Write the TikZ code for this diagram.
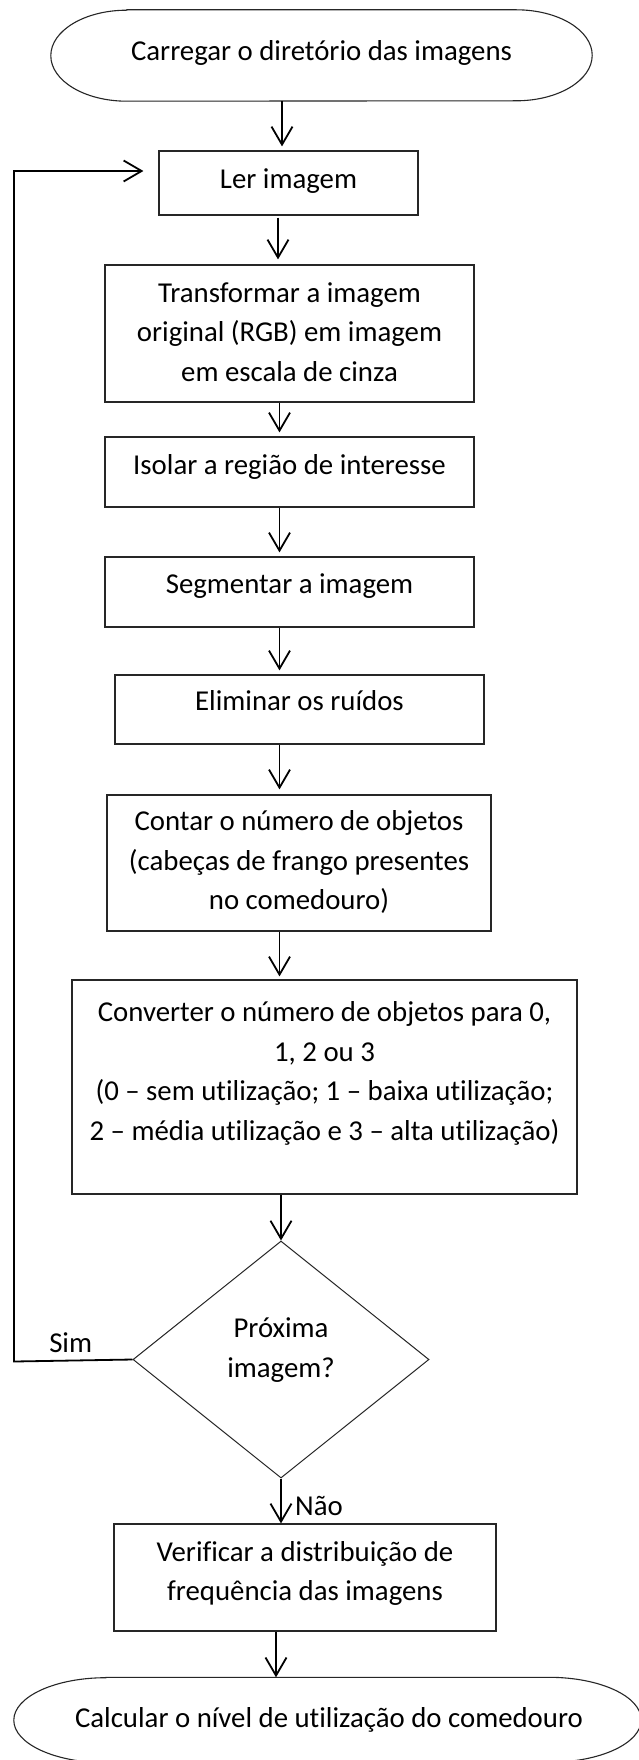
\documentclass[tikz,border=0pt]{standalone}
\usepackage{fontspec}
\setmainfont{Carlito}[Ligatures=NoCommon]
\usetikzlibrary{arrows.meta,shapes.geometric}
\begin{document}
\begin{tikzpicture}[x=1pt,y=-1pt,
  box/.style={draw=black!85,line width=1.2pt,rectangle,inner sep=0pt},
  frame/.style={draw=none,rectangle,inner sep=0pt},
  term/.style={draw=black!85,line width=1.1pt},
  dia/.style={draw=black!85,line width=1.0pt,diamond,inner sep=0pt},
  txt/.style={font=\fontsize{28.8}{39.5}\selectfont,align=center,inner sep=0pt,anchor=north},
  lbl/.style={font=\fontsize{28.8}{39.5}\selectfont,inner sep=0pt,anchor=base},
  arr/.style={line width=1.8pt,-{Straight Barb[length=18pt,width=21pt,line width=1.8pt]}}
]
\useasboundingbox (0,0) rectangle (638,1760);
\fill[white] (0,0) rectangle (638,1760);

% start terminator
\node[frame,minimum width=541pt,minimum height=91pt] (start) at (321.5,55.5) {};
\draw[term] ([xshift=76pt]start.north west) -- ([xshift=-76pt]start.north east)
  arc[start angle=90,end angle=-90,x radius=76pt,y radius=45.5pt]
  -- ([xshift=76pt]start.south west)
  arc[start angle=270,end angle=90,x radius=76pt,y radius=45.5pt] -- cycle;
\node[txt] (tstart) at (321.5,60-27.65) {\strut Carregar o diretório das imagens};

% boxes
\node[box,minimum width=259pt,minimum height=64pt] (ler) at (288.5,183) {};
\node[txt] (tler) at (288.5,188.3-27.65) {\strut Ler imagem};

\node[box,minimum width=369pt,minimum height=137pt] (trans) at (289.5,333.5) {};
\node[txt] (ttrans) at (289.5,302-27.65) {\strut Transformar a imagem\\original (RGB) em imagem\\em escala de cinza};

\node[box,minimum width=369pt,minimum height=70pt] (iso) at (289.5,472) {};
\node[txt] (tiso) at (289.5,474-27.65) {\strut Isolar a região de interesse};

\node[box,minimum width=369pt,minimum height=70pt] (seg) at (289.5,592) {};
\node[txt] (tseg) at (289.5,593-27.65) {\strut Segmentar a imagem};

\node[box,minimum width=369pt,minimum height=69pt] (elim) at (299.5,709.5) {};
\node[txt] (telim) at (299.5,710.7-27.65) {\strut Eliminar os ruídos};

\node[box,minimum width=384pt,minimum height=136pt] (cont) at (299,863) {};
\node[txt] (tcont) at (299,830.5-27.65) {\strut Contar o número de objetos\\(cabeças de frango presentes\\no comedouro)};

\node[box,minimum width=505pt,minimum height=214pt] (conv) at (324.5,1087) {};
\node[txt] (tconv) at (324.5,1021.7-27.65) {\strut Converter o número de objetos para 0,\\1, 2 ou 3\\(0 – sem utilização; 1 – baixa utilização;\\2 – média utilização e 3 – alta utilização)};

\node[dia,minimum width=296pt,minimum height=237pt] (dec) at (281,1359.5) {};
\node[txt] (tdec) at (281,1337.3-27.65) {\strut Próxima\\imagem?};

\node[box,minimum width=382pt,minimum height=107pt] (verif) at (305,1577.5) {};
\node[txt] (tverif) at (305,1561-27.65) {\strut Verificar a distribuição de\\frequência das imagens};

% end terminator
\node[frame,minimum width=627pt,minimum height=85pt] (fim) at (327.5,1720) {};
\draw[term] ([xshift=92pt]fim.north west) -- ([xshift=-92pt]fim.north east)
  arc[start angle=90,end angle=-90,x radius=92pt,y radius=42.5pt]
  -- ([xshift=92pt]fim.south west)
  arc[start angle=270,end angle=90,x radius=92pt,y radius=42.5pt] -- cycle;
\node[txt] (tfim) at (329,1727.5-27.65) {\strut Calcular o nível de utilização do comedouro};

% labels
\node[lbl] (sim) at (70.7,1352.7) {Sim};
\node[lbl,anchor=base west] (nao) at (295,1515.7) {Não};

% connectors
\coordinate (col) at (279.5,0);
\draw[arr,shorten >=4pt] (start.south -| 282,0) -- (ler.north -| 282,0);
\draw[arr,shorten >=5pt,shorten <=2pt] (ler.south -| 278,0) -- (trans.north -| 278,0);
\draw[arr,shorten >=4pt] (trans.south -| col) -- (iso.north -| col);
\draw[arr,shorten >=4pt] (iso.south -| col) -- (seg.north -| col);
\draw[arr,shorten >=4pt] (seg.south -| col) -- (elim.north -| col);
\draw[arr,shorten >=5pt] (elim.south -| col) -- (cont.north -| col);
\draw[arr,shorten >=3pt] (cont.south -| col) -- (conv.north -| col);
\draw[arr] (conv.south -| dec.north) -- (dec.north);
\draw[arr] (dec.south) -- (verif.north -| dec.south);
\draw[arr] (verif.south -| 276,0) -- (fim.north -| 276,0);

\coordinate (lb) at (14,1361.5);
\coordinate (lt) at (14,171);
\draw[arr,shorten >=15pt] (dec.west) -- (lb) -- (lt) -- (lt -| ler.west);
\end{tikzpicture}
\end{document}
